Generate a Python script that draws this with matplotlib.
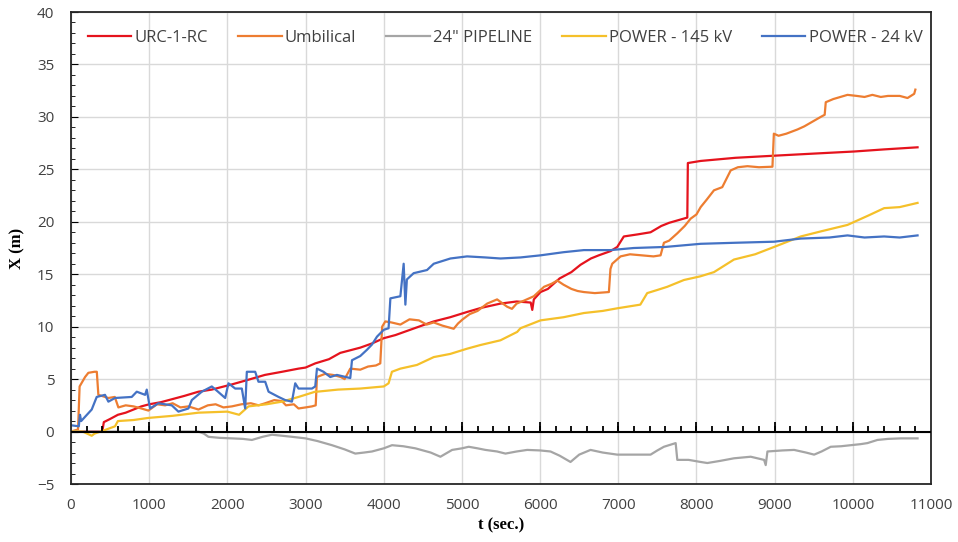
import matplotlib
matplotlib.use("Agg")
import matplotlib.pyplot as plt
from matplotlib.ticker import MultipleLocator
from matplotlib.markers import TICKUP

# ******************************************************************************
# data
# ******************************************************************************
red_t = [0, 400, 420, 500, 600, 700, 800, 900, 1000, 1150, 1300, 1450, 1630, 1800,
         2060, 2250, 2480, 2700, 2910, 3000, 3124, 3300, 3444, 3700, 3850, 4000,
         4150, 4300, 4450, 4640, 4850, 5066, 5250, 5493, 5700, 5880, 5900, 5920,
         6005, 6100, 6250, 6400, 6517, 6650, 6750, 6900, 6987, 7071, 7250, 7413,
         7550, 7650, 7883, 7890, 8054, 8500, 8993, 9500, 10017, 10400, 10828]
red_v = [0, 0, 0.9, 1.2, 1.6, 1.8, 2.1, 2.4, 2.6, 2.8, 3.1, 3.4, 3.8, 4.0,
         4.5, 4.9, 5.4, 5.7, 6.0, 6.1, 6.5, 6.9, 7.5, 8.0, 8.4, 8.9,
         9.2, 9.6, 10.0, 10.5, 10.9, 11.4, 11.8, 12.2, 12.4, 12.3, 11.6, 12.6,
         13.3, 13.6, 14.6, 15.2, 15.9, 16.5, 16.8, 17.2, 17.6, 18.6, 18.8, 19.0,
         19.6, 19.9, 20.4, 25.6, 25.8, 26.1, 26.3, 26.5, 26.7, 26.9, 27.1]

umb_t = [0, 90, 110, 180, 222, 300, 330, 350, 478, 560, 606, 700, 800, 900, 990,
         1100, 1204, 1300, 1400, 1500, 1630, 1750, 1850, 1950, 2058, 2180, 2300,
         2400, 2484, 2600, 2698, 2750, 2850, 2910, 3000, 3082, 3130, 3146, 3250,
         3350, 3450, 3500, 3572, 3700, 3800, 3900, 3956, 3980, 4020, 4100, 4213,
         4330, 4450, 4550, 4640, 4750, 4895, 4950, 5010, 5100, 5200, 5323, 5450,
         5579, 5640, 5700, 5800, 5920, 6050, 6150, 6219, 6300, 6400, 6480, 6560,
         6700, 6880, 6900, 6923, 7029, 7150, 7300, 7450, 7541, 7584, 7650, 7755,
         7850, 7926, 8000, 8054, 8130, 8224, 8330, 8438, 8530, 8652, 8800, 8972,
         8990, 9050, 9150, 9292, 9380, 9450, 9520, 9590, 9640, 9654, 9750, 9932,
         10050, 10150, 10250, 10358, 10450, 10600, 10700, 10785, 10800]
umb_v = [0, 0.2, 4.3, 5.2, 5.6, 5.7, 5.7, 3.5, 3.2, 3.3, 2.3, 2.5, 2.4, 2.2, 2.0,
         2.6, 2.5, 2.7, 2.3, 2.4, 2.1, 2.5, 2.6, 2.3, 2.4, 2.6, 2.7,
         2.5, 2.7, 3.0, 2.9, 2.5, 2.6, 2.2, 2.3, 2.4, 2.5, 5.2, 5.5,
         5.4, 5.2, 5.0, 6.0, 5.9, 6.2, 6.3, 6.5, 10.0, 10.5, 10.4, 10.2,
         10.7, 10.6, 10.2, 10.4, 10.1, 9.8, 10.3, 10.7, 11.2, 11.5, 12.2, 12.6,
         11.9, 11.7, 12.2, 12.5, 12.9, 13.8, 14.1, 14.4, 14.0, 13.6, 13.4, 13.3,
         13.2, 13.3, 15.5, 16.0, 16.7, 16.9, 16.8, 16.7, 16.8, 18.0, 18.2, 18.9,
         19.6, 20.3, 20.7, 21.4, 22.1, 23.0, 23.3, 24.9, 25.2, 25.3, 25.2, 25.25,
         28.4, 28.2, 28.4, 28.8, 29.1, 29.4, 29.7, 30.0, 30.2, 31.4, 31.7, 32.1,
         32.0, 31.9, 32.1, 31.9, 32.0, 32.0, 31.8, 32.2, 32.6]

pipe_t = [0, 1630, 1700, 1758, 1900, 2058, 2200, 2314, 2450, 2570, 2700, 2826,
          3000, 3150, 3338, 3500, 3636, 3750, 3850, 4000, 4106, 4250, 4405, 4600,
          4725, 4875, 5000, 5087, 5200, 5301, 5450, 5557, 5700, 5835, 6000, 6133,
          6250, 6389, 6500, 6645, 6800, 6987, 7200, 7413, 7500, 7584, 7734, 7755,
          7900, 8054, 8139, 8300, 8480, 8694, 8865, 8886, 8908, 9100, 9249, 9400,
          9505, 9600, 9718, 9850, 9974, 10100, 10187, 10315, 10450, 10615, 10828]
pipe_v = [0, 0, -0.2, -0.5, -0.6, -0.65, -0.7, -0.8, -0.5, -0.3, -0.4, -0.5,
          -0.65, -0.9, -1.3, -1.7, -2.1, -2.0, -1.9, -1.6, -1.3, -1.4, -1.6, -2.0,
          -2.4, -1.75, -1.6, -1.45, -1.6, -1.75, -1.9, -2.1, -1.9, -1.75, -1.8, -1.9,
          -2.3, -2.9, -2.2, -1.75, -2.0, -2.2, -2.2, -2.2, -1.8, -1.45, -1.1, -2.7,
          -2.7, -2.9, -3.0, -2.8, -2.55, -2.4, -2.7, -3.2, -1.9, -1.8, -1.75, -2.0,
          -2.2, -1.9, -1.45, -1.4, -1.3, -1.2, -1.1, -0.8, -0.7, -0.65, -0.65]

p145_t = [0, 150, 265, 300, 435, 563, 600, 800, 990, 1300, 1630, 2000, 2150, 2270,
          2500, 2698, 2910, 3124, 3146, 3415, 3700, 4000, 4062, 4105, 4213, 4425,
          4640, 4850, 5066, 5237, 5493, 5600, 5707, 5749, 6005, 6300, 6560, 6800,
          6987, 7282, 7370, 7500, 7626, 7840, 8050, 8224, 8480, 8750, 8993, 9334,
          9600, 9932, 10200, 10401, 10600, 10828]
p145_v = [0, 0, -0.4, -0.2, 0.15, 0.5, 1.0, 1.1, 1.3, 1.5, 1.8, 1.9, 1.6, 2.4,
          2.6, 2.85, 3.3, 3.8, 3.8, 4.0, 4.1, 4.3, 4.6, 5.7, 6.0, 6.35,
          7.1, 7.4, 7.9, 8.25, 8.7, 9.1, 9.5, 9.85, 10.6, 10.9, 11.3, 11.5,
          11.75, 12.1, 13.2, 13.5, 13.8, 14.45, 14.8, 15.2, 16.4, 16.9, 17.6, 18.6,
          19.1, 19.7, 20.6, 21.3, 21.4, 21.8]

p24_t = [0, 100, 115, 130, 265, 329, 435, 478, 563, 777, 841, 948, 969, 1011,
         1118, 1289, 1374, 1502, 1545, 1673, 1801, 1880, 1972, 2014, 2100, 2185,
         2228, 2249, 2356, 2398, 2484, 2527, 2655, 2740, 2826, 2868, 2910, 3082,
         3124, 3146, 3230, 3316, 3401, 3572, 3594, 3700, 3786, 3850, 3914, 4000,
         4062, 4085, 4213, 4255, 4277, 4296, 4383, 4554, 4640, 4853, 5066, 5300,
         5493, 5750, 6005, 6300, 6560, 6900, 7200, 7600, 8054, 8500, 8993, 9334,
         9700, 9932, 10150, 10400, 10600, 10828]
p24_v = [0.6, 0.5, 1.6, 1.0, 2.1, 3.3, 3.5, 2.85, 3.2, 3.3, 3.8, 3.5, 4.0, 2.2,
         2.7, 2.5, 1.9, 2.2, 3.0, 3.8, 4.3, 3.8, 3.2, 4.6, 4.1, 4.1,
         2.2, 5.7, 5.7, 4.75, 4.75, 3.8, 3.3, 3.0, 2.85, 4.6, 4.1, 4.1,
         4.3, 6.0, 5.7, 5.2, 5.4, 5.1, 6.8, 7.2, 7.8, 8.3, 9.05, 9.7,
         9.85, 12.7, 12.9, 16.0, 12.1, 14.5, 15.1, 15.4, 16.0, 16.5, 16.7, 16.6,
         16.5, 16.6, 16.8, 17.1, 17.3, 17.3, 17.5, 17.6, 17.9, 18.0, 18.1, 18.4,
         18.5, 18.7, 18.5, 18.6, 18.5, 18.7]

names = ["URC-1-RC", "Umbilical", "24\" PIPELINE", "POWER - 145 kV", "POWER - 24 kV"]
colors = ["#E5131D", "#ED7D31", "#A5A5A5", "#F5C02A", "#4472C4"]
series = [(red_t, red_v), (umb_t, umb_v), (pipe_t, pipe_v), (p145_t, p145_v), (p24_t, p24_v)]

# ******************************************************************************
# plot
# ******************************************************************************
plt.rcParams['font.family'] = ['Open Sans', 'DejaVu Sans']

fig = plt.figure(figsize=(9.58, 5.42), dpi=100)
ax = fig.add_axes([71/958, 1-484/542, 860/958, 472/542])

for (t, v), c, n in zip(series, colors, names):
    ax.plot(t, v, color=c, lw=1.6, label=n)

ax.set_xlim(0, 11000)
ax.set_ylim(-5, 40)
ax.xaxis.set_major_locator(MultipleLocator(1000))
ax.yaxis.set_major_locator(MultipleLocator(5))
ax.yaxis.set_minor_locator(MultipleLocator(1))
ax.grid(True, color="#D9D9D9", lw=1)
ax.set_axisbelow(True)

for s in ax.spines.values():
    s.set_color("#262626")
    s.set_linewidth(1.3)

ax.tick_params(axis='x', which='both', length=0, pad=10, labelsize=11, labelcolor="#404040")
ax.tick_params(axis='y', which='major', direction='in', length=5, pad=12,
               labelsize=11, labelcolor="#404040", right=False)
ax.tick_params(axis='y', which='minor', direction='in', length=3, right=False)

# horizontal axis line at zero with upward tick marks
ax.axhline(0, color="black", lw=1.5, zorder=3)
minor_x = MultipleLocator(200).tick_values(0, 10800)
minor_x = [x for x in minor_x if 0 < x <= 10800]
major_x = MultipleLocator(1000).tick_values(0, 10800)
major_x = [x for x in major_x if 0 < x <= 10800]
ax.plot(minor_x, [0] * len(minor_x), ls="", marker=TICKUP, ms=4, mew=1.3,
        color="black", zorder=3)
ax.plot(major_x, [0] * len(major_x), ls="", marker=TICKUP, ms=7, mew=1.3,
        color="black", zorder=3)

ax.set_xlabel("t (sec.)", fontfamily="Liberation Serif", fontweight="bold",
              fontsize=12, labelpad=3)
ax.set_ylabel("X (m)", fontfamily="Liberation Serif", fontweight="bold",
              fontsize=12, labelpad=8)

ax.legend(loc="upper center", bbox_to_anchor=(0.505, 0.993), ncol=5, frameon=False,
          fontsize=12, handlelength=2.6, handletextpad=0.2, columnspacing=1.8,
          labelcolor="#404040")

fig.savefig("out.png", dpi=100)
